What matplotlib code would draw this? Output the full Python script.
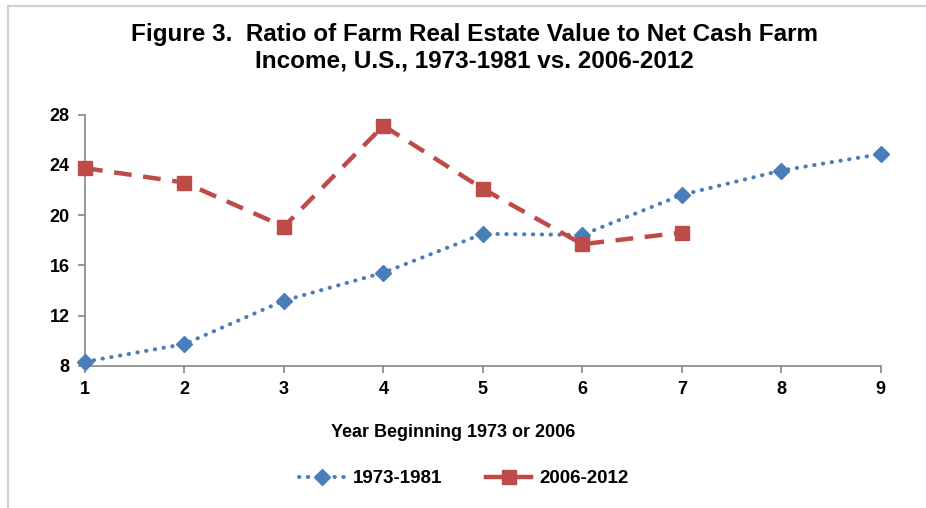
import matplotlib.pyplot as plt
from matplotlib.lines import Line2D

plt.rcParams['font.family'] = ['Liberation Sans', 'DejaVu Sans']

# Data
years = [1, 2, 3, 4, 5, 6, 7, 8, 9]
ratio_1973_1981 = [8.32, 9.73, 13.19, 15.42, 18.51, 18.43, 21.62, 23.56, 24.87]
ratio_2006_2012 = [23.75, 22.6, 19.09, 27.13, 22.1, 17.69, 18.61]
y_ticks = [8, 12, 16, 20, 24, 28]

blue = '#4A7EBB'
red = '#BE4B48'
axis_gray = '#868686'
dotted = (0, (0.1, 2.1))
dashed = (0, (4, 2.6))

fig = plt.figure(figsize=(9.26, 5.08), dpi=100)
ax = fig.add_axes([0.0918, 0.28, 0.8593, 0.494])

ax.plot(years, ratio_1973_1981, color=blue, linestyle=dotted, linewidth=2.9,
        dash_capstyle='round', marker='D', markersize=8.5, markeredgecolor=blue,
        clip_on=False, zorder=3, label='1973-1981')
ax.plot(years[:len(ratio_2006_2012)], ratio_2006_2012, color=red, linestyle=dashed,
        linewidth=3.2, marker='s', markersize=10, markeredgecolor=red,
        clip_on=False, zorder=4, label='2006-2012')

ax.set_xlim(1, 9)
ax.set_ylim(8, 28)
ax.set_xticks(years)
ax.set_yticks(y_ticks)
for side in ['top', 'right']:
    ax.spines[side].set_visible(False)
for side in ['left', 'bottom']:
    ax.spines[side].set_color(axis_gray)
    ax.spines[side].set_linewidth(1.2)
ax.tick_params(axis='both', direction='out', length=5, width=1.2, color=axis_gray,
               labelsize=13, pad=6)
for lab in ax.get_xticklabels() + ax.get_yticklabels():
    lab.set_fontweight('bold')

fig.text(0.512, 0.906, 'Figure 3.  Ratio of Farm Real Estate Value to Net Cash Farm\nIncome, U.S., 1973-1981 vs. 2006-2012',
         ha='center', va='center', fontsize=17.5, fontweight='bold', linespacing=1.2)
fig.text(0.489, 0.149, 'Year Beginning 1973 or 2006', ha='center', va='center',
         fontsize=13, fontweight='bold')

handles = [Line2D([], [], color=blue, linestyle=dotted, linewidth=2.9,
                  dash_capstyle='round', marker='D', markersize=8.5, markeredgecolor=blue),
           Line2D([], [], color=red, linestyle='-', linewidth=3.2, marker='s',
                  markersize=10, markeredgecolor=red)]
fig.legend(handles, ['1973-1981', '2006-2012'], loc='center', bbox_to_anchor=(0.501, 0.058),
           ncol=2, frameon=False, prop={'size': 13.5, 'weight': 'bold'},
           handlelength=2.4, columnspacing=2.35, handletextpad=0.45)

# chart border (top and left edges visible)
border = '#D0D0D0'
fig.add_artist(Line2D([8 / 926, 1], [1 - 6 / 508, 1 - 6 / 508], color=border, linewidth=1.6,
                      transform=fig.transFigure))
fig.add_artist(Line2D([8 / 926, 8 / 926], [0, 1 - 6 / 508], color=border, linewidth=1.6,
                      transform=fig.transFigure))

fig.savefig('out.png', dpi=100)
